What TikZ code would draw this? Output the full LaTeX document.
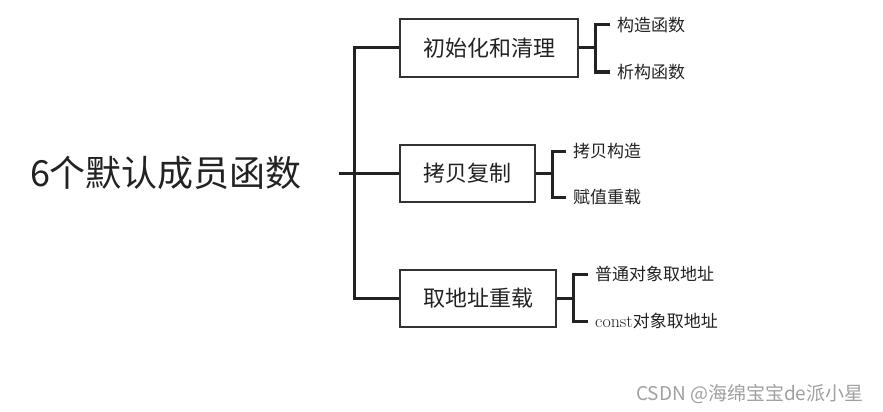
\documentclass[tikz,border=0pt]{standalone}
\usepackage{fontspec}
\usepackage{xcolor}
\usepackage{tikz}
\usetikzlibrary{positioning, calc}
\newfontfamily\cjk{Noto Sans CJK SC}
\definecolor{ink}{HTML}{222222}
\definecolor{edge}{HTML}{333333}
\definecolor{mark}{HTML}{A0A0A0}

\begin{document}
\begin{tikzpicture}[x=1pt,y=-1pt,
  trunk/.style={draw=ink,line width=3pt},
  twig/.style={draw=ink,line width=3pt},
  topic/.style={draw=edge,line width=2pt,inner sep=0pt,minimum height=57pt,
                font=\cjk\fontsize{22}{24}\selectfont,text=ink},
  leaf/.style={anchor=west,inner xsep=7pt,inner ysep=0pt,
               font=\cjk\fontsize{17}{19}\selectfont,text=ink}]
  \useasboundingbox (0,0) rectangle (883,412);
  \def\kx{16}
  % root
  \node[anchor=center,text=ink,font=\cjk\fontsize{36}{38}\selectfont] (root) at (166,173) {6个默认成员函数};
  \coordinate (rs) at (339,173);
  \coordinate (jn) at (354,173);
  % topics
  \node[topic,minimum width=178pt] (b1) at (489,48)   {初始化和清理};
  \node[topic,minimum width=135pt] (b2) at (467.5,173) {拷贝复制};
  \node[topic,minimum width=156pt] (b3) at (478,298)  {取地址重载};
  \draw[trunk] (rs) -- (jn) -- (b2.west);
  \draw[trunk] (b1.west) -| (jn) |- (b3.west);
  % leaves
  \node[leaf] (l11) at (610,25)  {构造函数};
  \node[leaf] (l12) at (610,72)  {析构函数};
  \node[leaf] (l21) at (566,151) {拷贝构造};
  \node[leaf] (l22) at (566,197) {赋值重载};
  \node[leaf] (l31) at (588,274) {普通对象取地址};
  \node[leaf] (l32) at (588,321) {{\rmfamily\fontsize{18}{20}\selectfont const}对象取地址};
  \draw[twig] (b1.east) -- ++(\kx,0) coordinate (k1);
  \draw[twig] (l11.west) -| (k1) |- (l12.west);
  \draw[twig] (b2.east) -- ++(\kx,0) coordinate (k2);
  \draw[twig] (l21.west) -| (k2) |- (l22.west);
  \draw[twig] (b3.east) -- ++(\kx,0) coordinate (k3);
  \draw[twig] (l31.west) -| (k3) |- (l32.west);
  % watermark
  \node[anchor=east,text=mark,font=\cjk\fontsize{19}{21}\selectfont] (wm) at (867,394) {CSDN @海绵宝宝de派小星};
\end{tikzpicture}
\end{document}
